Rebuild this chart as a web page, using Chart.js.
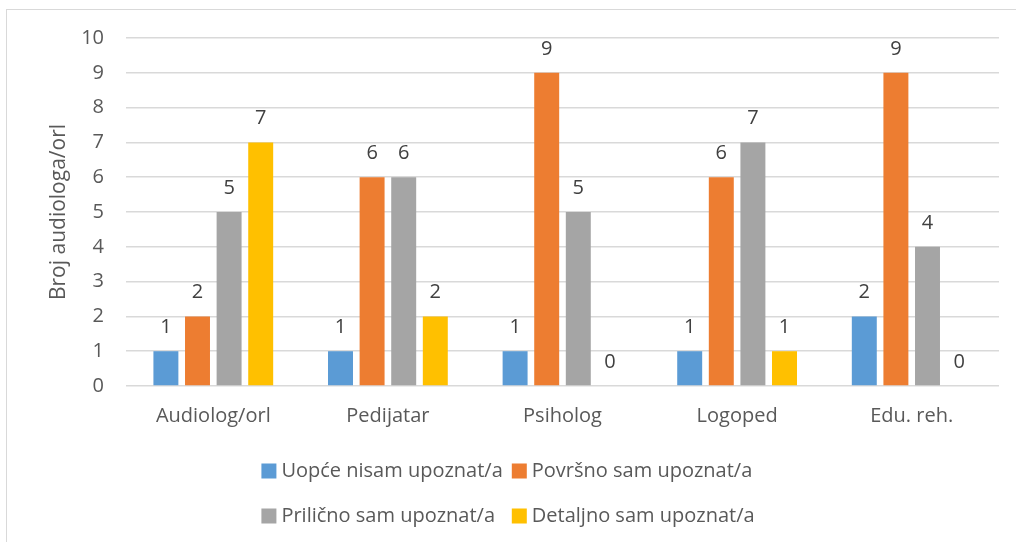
<!DOCTYPE html>
<html>
<head>
<meta charset="utf-8">
<script src="https://cdn.jsdelivr.net/npm/chart.js@4"></script>
<style>
  body { margin: 0; background: #fff; overflow: hidden; }
  #frame { position: absolute; left: 6px; top: 9px; width: 1040px; height: 580px; border: 1px solid #d9d9d9; }
  #wrap { position: absolute; left: 0; top: 0; width: 1016px; height: 542px; }
</style>
</head>
<body>
<div id="frame"></div>
<div id="wrap"><canvas id="myChart"></canvas></div>
<script>
'use strict';
let categories = ['Audiolog/orl', 'Pedijatar', 'Psiholog', 'Logoped', 'Edu. reh.'];
let seriesNames = ['Uopće nisam upoznat/a', 'Površno sam upoznat/a', 'Prilično sam upoznat/a', 'Detaljno sam upoznat/a'];
let seriesColors = ['#5b9bd5', '#ed7d31', '#a5a5a5', '#ffc000'];
let uopce = [1, 1, 1, 1, 2];
let povrsno = [2, 6, 9, 6, 9];
let prilicno = [5, 6, 5, 7, 4];
let detaljno = [7, 2, 0, 1, 0];
let yTicks = [0, 1, 2, 3, 4, 5, 6, 7, 8, 9, 10];
let yTitle = 'Broj audiologa/orl';

let fontName = '"Open Sans"';
let fontSize = 20;
let textColor = '#595959';

let allSeries = [uopce, povrsno, prilicno, detaljno];

// value labels above each bar
const valueLabels = {
    id: 'valueLabels',
    afterDatasetsDraw(chart) {
        let ctx = chart.ctx;
        ctx.save();
        ctx.font = fontSize + 'px ' + fontName;
        ctx.fillStyle = '#404040';
        ctx.textAlign = 'center';
        ctx.textBaseline = 'middle';
        chart.data.datasets.forEach((ds, i) => {
            chart.getDatasetMeta(i).data.forEach((bar, j) => {
                ctx.fillText(ds.data[j], bar.x, bar.y - 24);
            });
        });
        ctx.restore();
    }
};

// legend in a 2 x 2 grid under the axis
const gridLegend = {
    id: 'gridLegend',
    afterDraw(chart) {
        let ctx = chart.ctx;
        let sets = chart.data.datasets;
        let box = 15;
        let gap = 5;
        ctx.save();
        ctx.font = fontSize + 'px ' + fontName;
        ctx.textBaseline = 'middle';
        ctx.textAlign = 'left';
        let w = sets.map(ds => ctx.measureText(ds.label).width);
        let colW = box + gap + Math.max(w[0], w[2]) + 9;
        let lastW = box + gap + Math.max(w[1], w[3]);
        let x0 = (chart.width - (colW + lastW)) / 2;
        let rowY = [chart.chartArea.bottom + 85, chart.chartArea.bottom + 130];
        sets.forEach((ds, i) => {
            let x = x0 + (i % 2) * colW;
            let y = rowY[Math.floor(i / 2)];
            ctx.fillStyle = ds.backgroundColor;
            ctx.fillRect(x, y - box / 2, box, box);
            ctx.fillStyle = textColor;
            ctx.fillText(ds.label, x + box + gap, y);
        });
        ctx.restore();
    }
};

let datasets = [];
for (let i = 0; i < seriesNames.length; i++) {
    datasets.push({
        label: seriesNames[i],
        data: allSeries[i],
        backgroundColor: seriesColors[i],
        categoryPercentage: 0.724,
        barPercentage: 0.79
    });
}

let ctx = document.getElementById('myChart').getContext('2d');
let myChart = new Chart(ctx, {
    type: 'bar',
    data: {
        labels: categories,
        datasets: datasets
    },
    plugins: [valueLabels, gridLegend],
    options: {
        responsive: true,
        maintainAspectRatio: false,
        animation: false,
        layout: {
            padding: { top: 38, left: 0, right: 17, bottom: 104 }
        },
        plugins: {
            legend: { display: false },
            tooltip: { enabled: false }
        },
        scales: {
            x: {
                grid: { display: false },
                border: { display: false },
                ticks: {
                    color: textColor,
                    font: { family: fontName, size: fontSize },
                    padding: 10,
                    maxRotation: 0,
                    autoSkip: false
                }
            },
            y: {
                min: 0,
                max: 10,
                afterBuildTicks(scale) { scale.ticks = yTicks.map(v => ({ value: v })); },
                grid: { color: '#d9d9d9', lineWidth: 1.5, drawTicks: false },
                border: { display: false },
                ticks: {
                    color: textColor,
                    font: { family: fontName, size: fontSize },
                    padding: 22
                },
                title: {
                    display: true,
                    text: yTitle,
                    color: textColor,
                    font: { family: fontName, size: 21 },
                    padding: { top: 46, bottom: 0 }
                },
                afterFit(scale) { scale.width = 126; }
            }
        }
    }
});
</script>
</body>
</html>
